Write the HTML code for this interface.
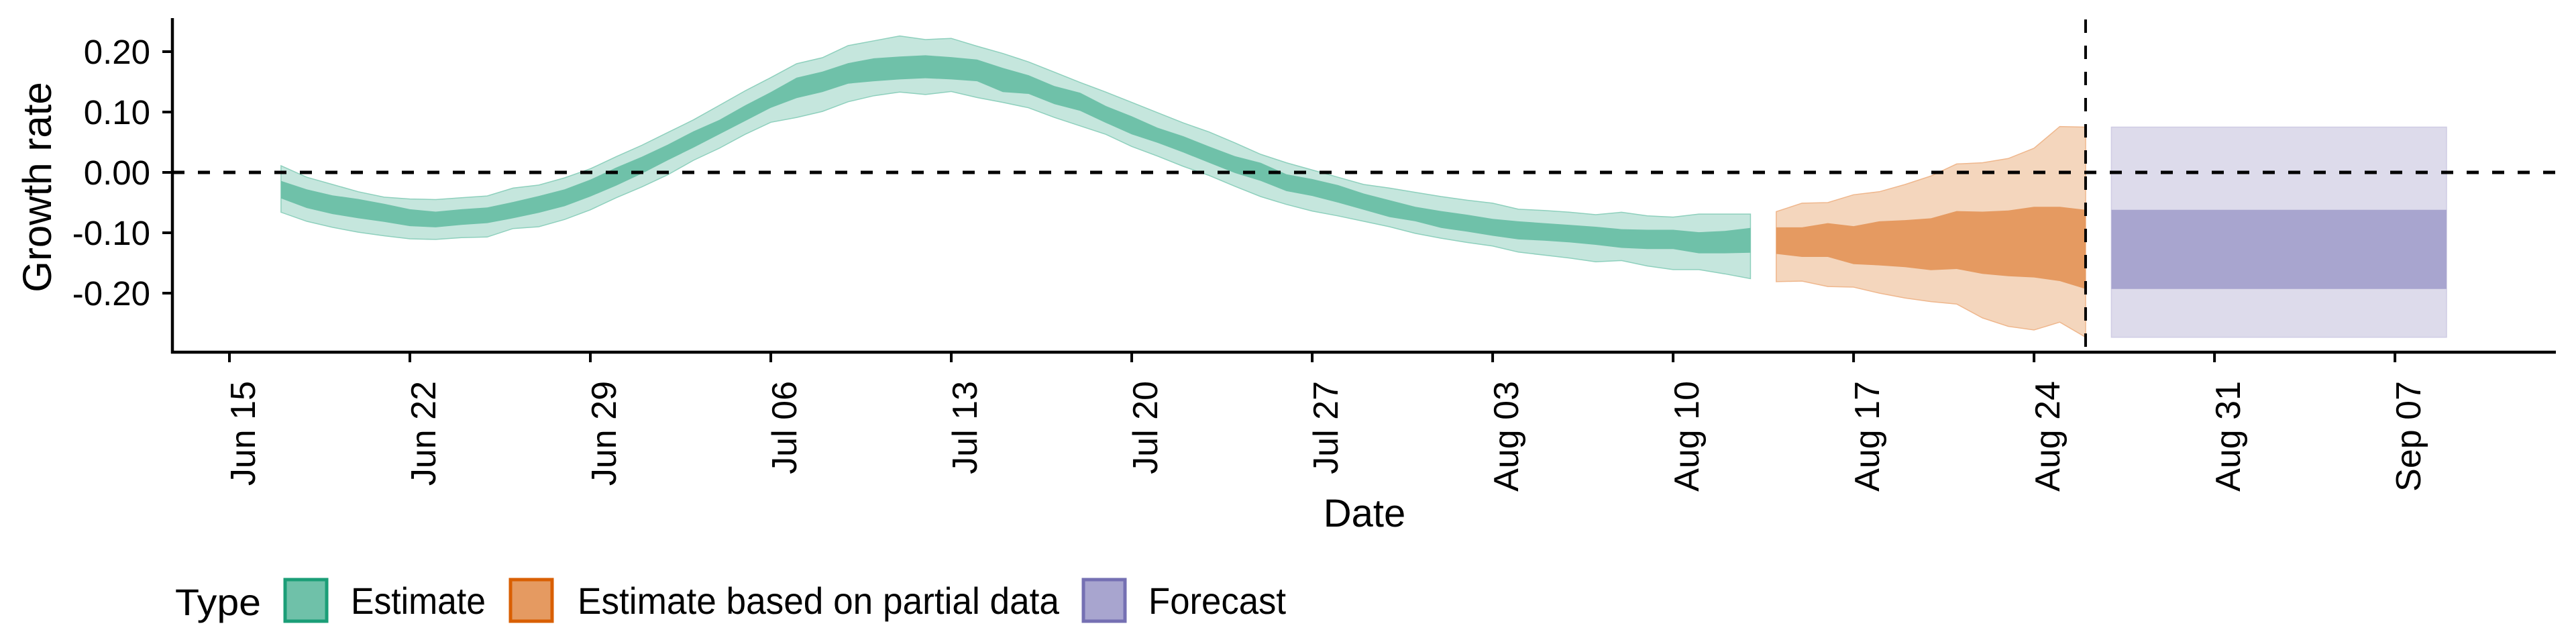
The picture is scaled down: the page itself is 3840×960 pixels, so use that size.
<!DOCTYPE html>
<html><head><meta charset="utf-8"><style>
html,body{margin:0;padding:0;background:#fff;}
svg{display:block;font-family:"Liberation Sans",Arial,sans-serif;}
</style></head><body>
<svg id="chart" width="3840" height="960" viewBox="0 0 3840 960" xmlns="http://www.w3.org/2000/svg">
<rect x="0" y="0" width="3840" height="960" fill="#fff"/>
<g id="marks"></g>
<g id="axes"></g>
<g id="legend"></g>
</svg>
<script>
// ---- data (days since Jun 15) ----
const estDays = [2,3,4,5,6,7,8,9,10,11,12,13,14,15,16,17,18,19,20,21,22,23,24,25,26,27,28,29,30,31,32,33,34,35,36,37,38,39,40,41,42,43,44,45,46,47,48,49,50,51,52,53,54,55,56,57,58,59];
const estUpper90 = [0.011,-0.008,-0.02,-0.032,-0.041,-0.044,-0.045,-0.042,-0.039,-0.026,-0.021,-0.009,0.006,0.026,0.045,0.066,0.087,0.111,0.135,0.157,0.18,0.19,0.21,0.218,0.226,0.22,0.222,0.209,0.197,0.183,0.166,0.149,0.133,0.116,0.099,0.082,0.067,0.049,0.03,0.016,0.004,-0.008,-0.02,-0.026,-0.033,-0.04,-0.046,-0.051,-0.061,-0.063,-0.066,-0.07,-0.066,-0.072,-0.074,-0.069,-0.069,-0.069];
const estUpper50 = [-0.014,-0.028,-0.038,-0.044,-0.052,-0.061,-0.065,-0.061,-0.058,-0.049,-0.039,-0.028,-0.012,0.008,0.026,0.046,0.068,0.087,0.111,0.133,0.157,0.167,0.181,0.189,0.192,0.194,0.191,0.187,0.173,0.161,0.143,0.132,0.11,0.093,0.074,0.06,0.043,0.027,0.016,-0.003,-0.011,-0.021,-0.035,-0.046,-0.057,-0.064,-0.07,-0.077,-0.081,-0.084,-0.087,-0.09,-0.094,-0.095,-0.095,-0.099,-0.097,-0.092];
const estLower50 = [-0.043,-0.059,-0.069,-0.076,-0.082,-0.089,-0.091,-0.087,-0.084,-0.076,-0.067,-0.056,-0.04,-0.022,-0.002,0.02,0.041,0.063,0.085,0.107,0.123,0.133,0.147,0.151,0.154,0.156,0.154,0.151,0.133,0.13,0.113,0.102,0.082,0.063,0.049,0.033,0.016,-0.001,-0.014,-0.031,-0.039,-0.05,-0.062,-0.074,-0.081,-0.092,-0.098,-0.105,-0.111,-0.113,-0.116,-0.12,-0.125,-0.127,-0.127,-0.134,-0.134,-0.133];
const estLower90 = [-0.066,-0.081,-0.091,-0.099,-0.105,-0.11,-0.111,-0.108,-0.107,-0.093,-0.09,-0.078,-0.062,-0.042,-0.024,-0.004,0.02,0.04,0.063,0.083,0.091,0.101,0.117,0.127,0.133,0.129,0.134,0.124,0.116,0.107,0.091,0.077,0.063,0.043,0.027,0.01,-0.005,-0.023,-0.04,-0.053,-0.064,-0.072,-0.081,-0.09,-0.101,-0.109,-0.116,-0.122,-0.132,-0.137,-0.142,-0.148,-0.146,-0.155,-0.161,-0.161,-0.168,-0.176];
const partDays = [60,61,62,63,64,65,66,67,68,69,70,71,72];
const partUpper90 = [-0.065,-0.051,-0.05,-0.037,-0.032,-0.02,-0.006,0.014,0.016,0.023,0.04,0.076,0.075];
const partUpper50 = [-0.091,-0.091,-0.084,-0.089,-0.081,-0.079,-0.076,-0.064,-0.065,-0.063,-0.057,-0.057,-0.062];
const partLower50 = [-0.135,-0.14,-0.14,-0.152,-0.154,-0.157,-0.162,-0.16,-0.168,-0.172,-0.174,-0.18,-0.193];
const partLower90 = [-0.181,-0.18,-0.189,-0.19,-0.2,-0.208,-0.214,-0.218,-0.241,-0.255,-0.261,-0.248,-0.273];
const fcDays = [73,86];
const fcUpper90 = [0.075,0.075];
const fcUpper50 = [-0.062,-0.062];
const fcLower50 = [-0.193,-0.193];
const fcLower90 = [-0.273,-0.273];
const xTickDays = [0,7,14,21,28,35,42,49,56,63,70,77,84];
const xTickLabels = ["Jun 15","Jun 22","Jun 29","Jul 06","Jul 13","Jul 20","Jul 27","Aug 03","Aug 10","Aug 17","Aug 24","Aug 31","Sep 07"];
const yTicks = [0.2,0.1,0,-0.1,-0.2];
const yTickLabels = ["0.20","0.10","0.00","-0.10","-0.20"];
const nowcastDay = 72;

// ---- scales ----
const X0 = 342, PXD = 38.43;
const Y0 = 257, PXU = 900;
function xs(d){return X0 + d*PXD;}
function ys(v){return Y0 - v*PXU;}
const NS="http://www.w3.org/2000/svg";
const marks=document.getElementById('marks'), axes=document.getElementById('axes'), legend=document.getElementById('legend');
function mk(tag, attrs, parent){const e=document.createElementNS(NS,tag);for(const k in attrs)e.setAttribute(k,attrs[k]);parent.appendChild(e);return e;}
function ribbon(days, up, lo){
  let p='';
  for(let i=0;i<days.length;i++)p+=(i?'L':'M')+xs(days[i]).toFixed(1)+','+ys(up[i]).toFixed(1);
  for(let i=days.length-1;i>=0;i--)p+='L'+xs(days[i]).toFixed(1)+','+ys(lo[i]).toFixed(1);
  return p+'Z';
}
function band(days,u90,u50,l50,l90,light,dark,edge,name){
  const a=mk('path',{d:ribbon(days,u90,l90),fill:light,stroke:edge,'stroke-width':1.5},marks);
  
  
  const b=mk('path',{d:ribbon(days,u50,l50),fill:dark},marks);
  
  
}
band(estDays,estUpper90,estUpper50,estLower50,estLower90,'#c5e6dd','#6fc1a9','#8ed0bd','estimate');
band(partDays,partUpper90,partUpper50,partLower50,partLower90,'#f4d6bd','#e59a61','#efb78d','partial-estimate');
band(fcDays,fcUpper90,fcUpper50,fcLower50,fcLower90,'#dddbeb','#a8a5cf','#cfcce4','forecast');

// reference lines
const h=mk('line',{x1:257,x2:3810,y1:ys(0),y2:ys(0),stroke:'#000','stroke-width':5,'stroke-dasharray':'18 20'},marks);


const v=mk('line',{x1:xs(nowcastDay),x2:xs(nowcastDay),y1:29,y2:525,stroke:'#000','stroke-width':4,'stroke-dasharray':'20 19'},marks);



// axes
const ya=mk('line',{x1:257,x2:257,y1:27,y2:527,stroke:'#000','stroke-width':4.5},axes);


const xa=mk('line',{x1:255,x2:3810,y1:525,y2:525,stroke:'#000','stroke-width':4.5},axes);


yTicks.forEach((t,i)=>{
  const tk=mk('line',{x1:242,x2:257,y1:ys(t),y2:ys(t),stroke:'#000','stroke-width':4},axes);
  
  
  const tx=mk('text',{x:224,y:ys(t)+18,'text-anchor':'end','font-size':51,fill:'#000'},axes);
  tx.textContent=yTickLabels[i];
  
  
});
xTickDays.forEach((d,i)=>{
  const x=xs(d);
  const tk=mk('line',{x1:x,x2:x,y1:525,y2:540,stroke:'#000','stroke-width':4},axes);
  
  
  const tx=mk('text',{transform:'translate('+(x+38)+',568) rotate(-90)','text-anchor':'end','font-size':52,fill:'#000'},axes);
  tx.textContent=xTickLabels[i];
  
  
});
const xt=mk('text',{x:2034,y:785,'text-anchor':'middle','font-size':58,fill:'#000'},axes);
xt.textContent='Date';


const yt=mk('text',{transform:'translate(76,279) rotate(-90)','text-anchor':'middle','font-size':60,fill:'#000'},axes);
yt.textContent='Growth rate';



// legend
const lt=mk('text',{x:261,y:917,'font-size':56,fill:'#000',textLength:128,lengthAdjust:'spacingAndGlyphs'},legend);
lt.textContent='Type';


const items=[
  {x:425,lx:523,w:201,fill:'#6fc1a9',stroke:'#1b9e77',label:'Estimate',name:'legend-entry-estimate'},
  {x:761,lx:861,w:718,fill:'#e59a61',stroke:'#d95f02',label:'Estimate based on partial data',name:'legend-entry-partial'},
  {x:1615,lx:1712,w:205,fill:'#a8a5cf',stroke:'#7570b3',label:'Forecast',name:'legend-entry-forecast'}
];
items.forEach(it=>{
  const g=mk('g',{},legend);
  
  
  const r=mk('rect',{x:it.x,y:864,width:62,height:62,fill:it.fill,stroke:it.stroke,'stroke-width':5},g);
  
  
  const t=mk('text',{x:it.lx,y:915,'font-size':56,fill:'#000',textLength:it.w,lengthAdjust:'spacingAndGlyphs'},g);
  t.textContent=it.label;
  
  
});
</script>
</body></html>
